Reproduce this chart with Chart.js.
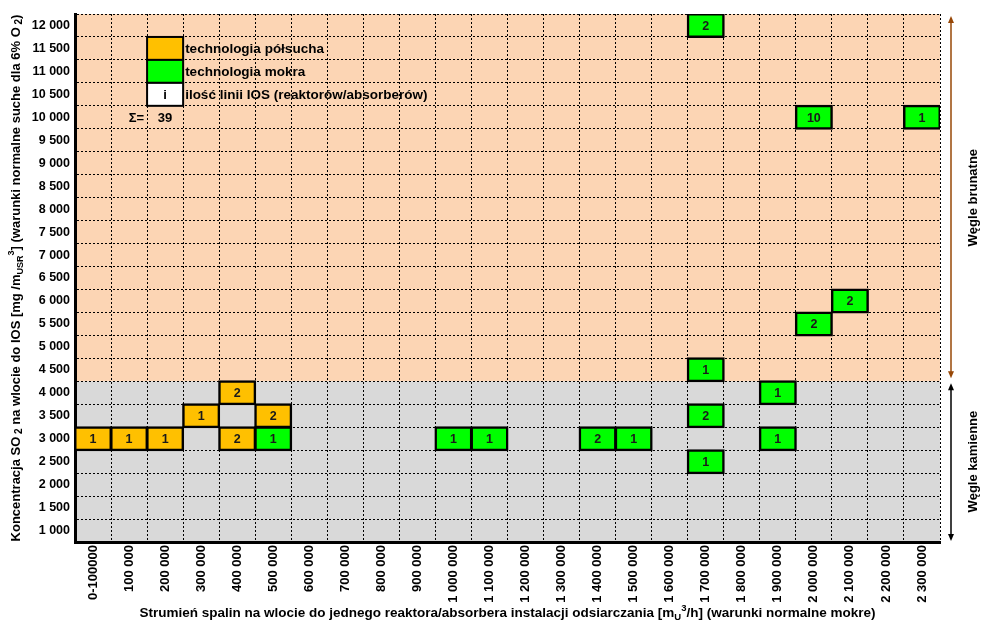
<!DOCTYPE html>
<html><head><meta charset="utf-8">
<script src="https://cdn.jsdelivr.net/npm/chart.js@4/dist/chart.umd.min.js"></script>
<style>html,body{margin:0;padding:0;background:#fff;}#wrap{width:984px;height:634px;}</style>
</head><body><div id="wrap"><canvas id="c" width="984" height="634"></canvas></div>
<script>
// ---- data ----
const categories = ['0-100000','100 000','200 000','300 000','400 000','500 000','600 000','700 000','800 000','900 000','1 000 000','1 100 000','1 200 000','1 300 000','1 400 000','1 500 000','1 600 000','1 700 000','1 800 000','1 900 000','2 000 000','2 100 000','2 200 000','2 300 000'];
const yTickValues = [1000,1500,2000,2500,3000,3500,4000,4500,5000,5500,6000,6500,7000,7500,8000,8500,9000,9500,10000,10500,11000,11500,12000];
const yTickLabels = ['1 000','1 500','2 000','2 500','3 000','3 500','4 000','4 500','5 000','5 500','6 000','6 500','7 000','7 500','8 000','8 500','9 000','9 500','10 000','10 500','11 000','11 500','12 000'];
const concStep = 500;
const brownCoalFrom = 4500; // rows from this value up: lignite

const semiDryFlow  = ['0-100000','100 000','200 000','300 000','400 000','400 000','500 000'];
const semiDryConc  = [3000,3000,3000,3500,4000,3000,3500];
const semiDryCount = [1,1,1,1,2,2,2];

const wetFlow  = ['500 000','1 000 000','1 100 000','1 400 000','1 500 000','1 700 000','1 700 000','1 700 000','1 700 000','1 900 000','1 900 000','2 000 000','2 000 000','2 100 000','2 300 000'];
const wetConc  = [3000,3000,3000,3000,3000,12000,4500,3500,2500,4000,3000,10000,5500,6000,10000];
const wetCount = [1,1,1,2,1,2,1,2,1,1,1,10,2,2,1];

const legendLabels = ['technologia półsucha','technologia mokra','ilość linii IOS (reaktorów/absorberów)'];
const FAM = '"Liberation Sans", Arial, sans-serif';

const yMin = yTickValues[0] - concStep/2;
const yMax = yTickValues[yTickValues.length-1] + concStep/2;
const yBounds = [yMin].concat(yTickValues.map(v => v + concStep/2));
const totalCount = semiDryCount.concat(wetCount).reduce((a,b)=>a+b,0);

function toBars(flow, conc, count){
  return flow.map((f,i)=>({x:f, y:[conc[i]-concStep/2, conc[i]+concStep/2], n:count[i]}));
}

const bgPlugin = {
  id:'bg',
  beforeDraw(chart){
    const {ctx, chartArea:a, scales:{y}} = chart;
    const yb = y.getPixelForValue(brownCoalFrom - concStep/2);
    ctx.save();
    ctx.fillStyle = '#FCD5B4';
    ctx.fillRect(a.left, a.top, a.right-a.left, yb-a.top);
    ctx.fillStyle = '#D9D9D9';
    ctx.fillRect(a.left, yb, a.right-a.left, a.bottom-yb);
    ctx.restore();
  }
};

const cellText = {
  id:'cellText',
  afterDatasetsDraw(chart){
    const ctx = chart.ctx;
    ctx.save();
    ctx.font = 'bold 12.5px ' + FAM;
    ctx.fillStyle = '#1a1a1a';
    ctx.textAlign = 'center';
    ctx.textBaseline = 'middle';
    chart.data.datasets.forEach((ds, d) => {
      chart.getDatasetMeta(d).data.forEach((el, i) => {
        ctx.fillText(String(ds.data[i].n), el.x, (el.y + el.base)/2 + 1);
      });
    });
    ctx.restore();
  }
};

function drawRich(ctx, segs, cx, cy, rot){
  ctx.save();
  ctx.translate(cx, cy);
  ctx.rotate(rot);
  let total = 0;
  segs.forEach(s => { ctx.font = 'bold ' + s.size + 'px ' + FAM; s.w = ctx.measureText(s.t).width; total += s.w; });
  let x = -total/2;
  ctx.textAlign = 'left';
  ctx.textBaseline = 'alphabetic';
  ctx.fillStyle = '#000';
  segs.forEach(s => { ctx.font = 'bold ' + s.size + 'px ' + FAM; ctx.fillText(s.t, x, 4.5 + (s.dy||0)); x += s.w; });
  ctx.restore();
}

function arrow(ctx, x, y1, y2, color){
  ctx.save();
  ctx.strokeStyle = color; ctx.fillStyle = color; ctx.lineWidth = 1.5;
  ctx.beginPath(); ctx.moveTo(x, y1+5); ctx.lineTo(x, y2-5); ctx.stroke();
  ctx.beginPath(); ctx.moveTo(x, y1); ctx.lineTo(x-3, y1+7); ctx.lineTo(x+3, y1+7); ctx.closePath(); ctx.fill();
  ctx.beginPath(); ctx.moveTo(x, y2); ctx.lineTo(x-3, y2-7); ctx.lineTo(x+3, y2-7); ctx.closePath(); ctx.fill();
  ctx.restore();
}

const decor = {
  id:'decor',
  afterDraw(chart){
    const {ctx, chartArea:a, scales:{x, y}} = chart;
    const cw = x.getPixelForValue(1) - x.getPixelForValue(0);
    const rh = y.getPixelForValue(0) - y.getPixelForValue(concStep);
    // legend
    const lx = x.getPixelForValue(2) - cw/2;
    const fills = ['#FFC000','#00FF00','#FFFFFF'];
    const rows = [11500, 11000, 10500];
    ctx.save();
    rows.forEach((r, i) => {
      const top = y.getPixelForValue(r + concStep/2);
      ctx.fillStyle = fills[i];
      ctx.fillRect(lx, top, cw, rh);
      ctx.strokeStyle = '#000'; ctx.lineWidth = 2;
      ctx.strokeRect(lx, top, cw, rh);
      ctx.font = 'bold 13.5px ' + FAM; ctx.fillStyle = '#000';
      ctx.textAlign = 'left'; ctx.textBaseline = 'middle';
      ctx.fillText(legendLabels[i], lx + cw + 2, y.getPixelForValue(r) + 1);
    });
    ctx.font = 'bold 13px ' + FAM;
    ctx.textAlign = 'center'; ctx.textBaseline = 'middle';
    ctx.fillText('i', lx + cw/2, y.getPixelForValue(10500) + 1);
    ctx.textAlign = 'right';
    ctx.fillText('Σ=', lx - 3, y.getPixelForValue(10000) + 1);
    ctx.textAlign = 'center';
    ctx.fillText(String(totalCount), lx + cw/2, y.getPixelForValue(10000) + 1);
    ctx.restore();

    // right side annotation
    const ax = a.right + 11;
    const yTop = y.getPixelForValue(yMax);
    const yMid = y.getPixelForValue(brownCoalFrom - concStep/2);
    const yBot = y.getPixelForValue(yMin);
    arrow(ctx, ax, yTop + 2, yMid - 3, '#974706');
    arrow(ctx, ax, yMid + 2, yBot - 1, '#000');
    drawRich(ctx, [{t:'Węgle brunatne', size:13}], a.right + 32, (yTop + yMid)/2, -Math.PI/2);
    drawRich(ctx, [{t:'Węgle kamienne', size:13}], a.right + 32, (yMid + yBot)/2, -Math.PI/2);

    // axis titles
    drawRich(ctx, [
      {t:'Koncentracja SO', size:13},
      {t:' 2', size:10, dy:2},
      {t:' na wlocie do IOS [mg /m', size:13},
      {t:'USR', size:9, dy:3},
      {t:'3', size:9, dy:-6},
      {t:'] (warunki normalne suche dla 6% O', size:13},
      {t:' 2', size:10, dy:2},
      {t:')', size:13}
    ], 15, (a.top + a.bottom)/2, -Math.PI/2);
    drawRich(ctx, [
      {t:'Strumień spalin na wlocie do jednego reaktora/absorbera instalacji odsiarczania [m', size:13.5},
      {t:'U', size:9.5, dy:3},
      {t:'3', size:9.5, dy:-6},
      {t:'/h] (warunki normalne mokre)', size:13.5}
    ], (a.left + a.right)/2, 612, 0);
  }
};

const yFont = {family: FAM, size: 12.5, weight: 'bold'};
const xFont = {family: FAM, size: 13, weight: 'bold'};

new Chart(document.getElementById('c'), {
  type: 'bar',
  data: {
    labels: categories,
    datasets: [
      {label: legendLabels[0], data: toBars(semiDryFlow, semiDryConc, semiDryCount), backgroundColor:'#FFC000',
       borderColor:'#000', borderWidth:2.5, borderSkipped:false, inflateAmount:1, grouped:false, barPercentage:1, categoryPercentage:1},
      {label: legendLabels[1], data: toBars(wetFlow, wetConc, wetCount), backgroundColor:'#00FF00',
       borderColor:'#000', borderWidth:2.5, borderSkipped:false, inflateAmount:1, grouped:false, barPercentage:1, categoryPercentage:1}
    ]
  },
  options: {
    responsive: false,
    animation: false,
    devicePixelRatio: 1,
    layout: {padding: {left: 28, right: 44, top: 14, bottom: 0}},
    plugins: {legend: {display: false}, tooltip: {enabled: false}},
    scales: {
      x: {
        type: 'category', offset: true,
        grid: {offset: true, color: '#000', lineWidth: 1, drawTicks: false},
        border: {color: '#000', width: 3, dash: [2, 2]},
        ticks: {autoSkip: false, minRotation: 90, maxRotation: 90, padding: 3, color: '#000', font: xFont},
        afterFit: s => { s.height = 92; }
      },
      y: {
        type: 'linear', min: yMin, max: yMax,
        afterBuildTicks: s => { s.ticks = yBounds.map(v => ({value: v})); },
        afterFit: s => { s.width = 47; },
        grid: {color: '#000', lineWidth: 1, drawTicks: false},
        border: {color: '#000', width: 3, dash: [2, 2]},
        ticks: {autoSkip: false, padding: 5, labelOffset: 11.5, color: '#000', font: yFont,
          callback: (v, i) => i === 0 ? '' : yTickLabels[i - 1]}
      }
    }
  },
  plugins: [bgPlugin, cellText, decor]
});
</script>
</body></html>
